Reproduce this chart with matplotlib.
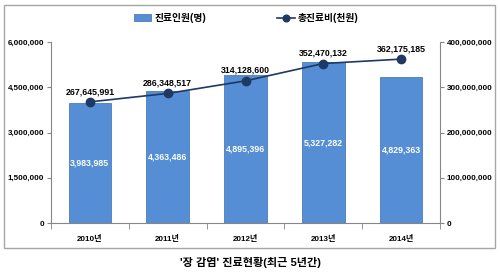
import matplotlib
matplotlib.use('Agg')
import matplotlib.pyplot as plt
from matplotlib.patches import Rectangle
from matplotlib.ticker import FuncFormatter
import numpy as np

plt.rcParams['font.family'] = ['Liberation Sans', 'Noto Sans CJK KR', 'DejaVu Sans']

years = ['2010년', '2011년', '2012년', '2013년', '2014년']
patients = [3983985, 4363486, 4895396, 5327282, 4829363]  # 진료인원(명)
cost = [267645991, 286348517, 314128600, 352470132, 362175185]  # 총진료비(천원)

bar_color = '#558ED5'
line_color = '#1F3864'

fig = plt.figure(figsize=(5, 2.74), dpi=100)
fig.patches.append(Rectangle((4 / 500, 1 - 248 / 274), 491 / 500, 243 / 274,
                             transform=fig.transFigure, fill=False,
                             edgecolor='#A6A6A6', linewidth=1))

ax = fig.add_axes([51 / 500, 1 - 223 / 274, 389 / 500, 181 / 274])
x = np.arange(len(years))
bars = ax.bar(x, patients, width=0.55, color=bar_color, edgecolor='#4A7EBB',
              linewidth=0.6, label='진료인원(명)')
ax.set_ylim(0, 6000000)
ax.set_xlim(-0.5, 4.5)
ax.set_yticks(np.arange(0, 6000001, 1500000))
ax.yaxis.set_major_formatter(FuncFormatter(lambda v, p: f'{int(v):,}'))
ax.set_xticks(x)
ax.set_xticklabels(years)
for v, xi in zip(patients, x):
    ax.text(xi, v / 2, f'{v:,}', color='white', ha='center', va='center',
            fontsize=6.3, fontweight='bold')

ax2 = ax.twinx()
ax2.plot(x, cost, color=line_color, marker='o', markersize=6, linewidth=1.2,
         label='총진료비(천원)')
ax2.set_ylim(0, 400000000)
ax2.set_yticks(np.arange(0, 400000001, 100000000))
ax2.yaxis.set_major_formatter(FuncFormatter(lambda v, p: f'{int(v):,}'))
for v, xi in zip(cost, x):
    ax2.text(xi, v + 13000000, f'{v:,}', color='black', ha='center',
             va='bottom', fontsize=6.3, fontweight='bold')

for a in (ax, ax2):
    a.spines['top'].set_visible(False)
    a.spines['left'].set_color('#868686')
    a.spines['right'].set_color('#868686')
    a.spines['bottom'].set_color('#868686')
    a.tick_params(labelsize=5.8, length=3, pad=2, color='#868686')
    for lbl in a.get_yticklabels() + a.get_xticklabels():
        lbl.set_fontweight('bold')
ax.spines['right'].set_visible(False)
ax2.spines['left'].set_visible(False)
ax2.spines['bottom'].set_visible(False)
ax.set_xticks(np.arange(-0.5, 5, 1), minor=True)
ax.tick_params(axis='x', which='major', length=0, pad=9)
ax.tick_params(axis='x', which='minor', length=4, color='#868686')

fig.legend(handles=[bars], loc='center', bbox_to_anchor=(170 / 500, 1 - 18 / 274),
           frameon=False, prop={'weight': 'bold', 'size': 7},
           handlelength=1.8, handleheight=0.6, handletextpad=0.3)
line_handle = ax2.get_lines()[0]
fig.legend(handles=[line_handle], loc='center', bbox_to_anchor=(318 / 500, 1 - 18 / 274),
           frameon=False, prop={'weight': 'bold', 'size': 7},
           handlelength=1.8, handletextpad=0.3, markerscale=0.8)

fig.text(250 / 500, 1 - 262 / 274, "'장 감염' 진료현황(최근 5년간)", ha='center',
         va='center', fontsize=8, fontweight='bold')

fig.savefig('out.png', dpi=100)
